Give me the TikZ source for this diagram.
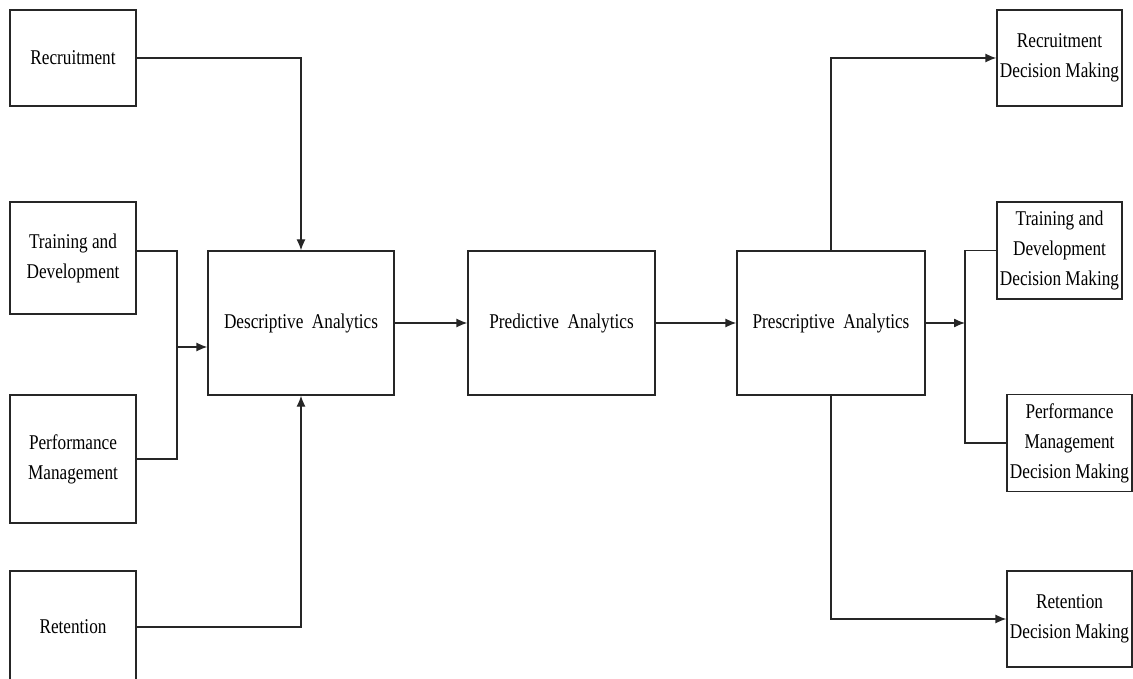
\documentclass[tikz,border=0pt]{standalone}
\usepackage{fontspec}
\setmainfont{Liberation Serif}[FakeStretch=0.82]
\usetikzlibrary{arrows.meta}
\begin{document}
\begin{tikzpicture}[x=1pt,y=-1pt,
  box/.style={draw=black!85, line width=1.3pt, inner sep=0pt, align=center,
    text=black, font=\fontsize{21}{30}\selectfont},
  link/.style={draw=black!85, line width=1.3pt},
  arr/.style={link, -{Latex[length=11pt,width=9pt]}}]
\useasboundingbox (0,0) rectangle (1133,679);

% sources
\node[box, minimum width=126, minimum height=96]  (rec)  at (73,58)  {Recruitment};
\node[box, minimum width=126, minimum height=112] (trn)  at (73,258) {Training and\\Development};
\node[box, minimum width=126, minimum height=128] (perf) at (73,459) {Performance\\Management};
\node[box, minimum width=126, minimum height=112] (ret)  at (73,627) {Retention};

% analytics stages
\node[box, minimum width=186, minimum height=144] (desc) at (301,323)   {Descriptive\ \ Analytics};
\node[box, minimum width=187, minimum height=144] (pred) at (561.5,323) {Predictive\ \ Analytics};
\node[box, minimum width=188, minimum height=144] (pres) at (831,323)   {Prescriptive\ \ Analytics};

% decisions
\node[box, minimum width=125, minimum height=96] (rdm)   at (1059.5,58)  {Recruitment\\Decision Making};
\node[box, minimum width=125, minimum height=97] (tdm)   at (1059.5,250.5) {Training and\\Development\\Decision Making};
\node[box, minimum width=125, minimum height=97] (pdm)   at (1069.5,443) {Performance\\Management\\Decision Making};
\node[box, minimum width=125, minimum height=96] (retdm) at (1069.5,619) {Retention\\Decision Making};

% inputs to descriptive analytics
\coordinate (jn) at (177,347);
\draw[arr] (rec.east) -| (desc.north);
\draw[arr] (ret.east) -| (desc.south);
\draw[link] ([yshift=7pt]trn.east) -| (jn) |- (perf.east);
\draw[arr] (jn) -- (desc.west |- jn);

% pipeline
\draw[arr] (desc) -- (pred);
\draw[arr] (pred) -- (pres);

% outputs
\coordinate (ob) at (965,323);
\draw[arr] (pres.east) -- (ob);
\draw[link] (tdm.west) -| (ob) |- (pdm.west);
\draw[arr] (pres.north) |- (rdm.west);
\draw[arr] (pres.south) |- (retdm.west);
\end{tikzpicture}
\end{document}
